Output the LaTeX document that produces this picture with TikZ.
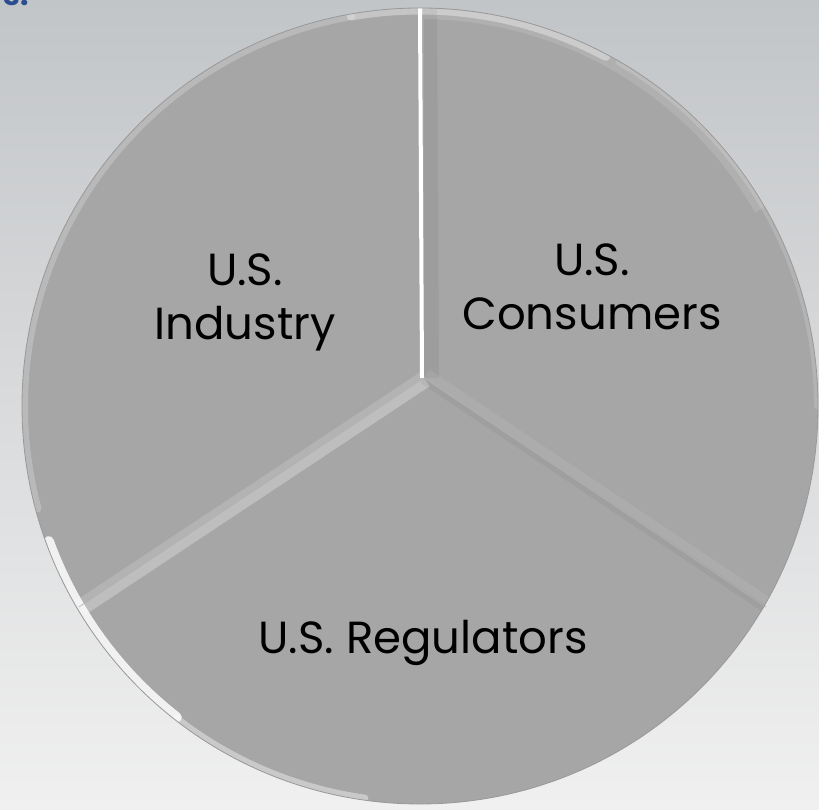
\documentclass[tikz,border=0pt]{standalone}
\usepackage{fontspec}
\setmainfont{Poppins}
\definecolor{bgtop}{HTML}{C2C5C8}
\definecolor{bgbot}{HTML}{F0F0F0}
\definecolor{piefill}{HTML}{A6A6A6}
\definecolor{titleblue}{HTML}{2A4D8F}
\begin{document}
\begin{tikzpicture}[x=1pt,y=1pt,
  pie/.style={fill=piefill},
  lbl/.style={font=\fontsize{45}{54}\selectfont, text=black, align=center, inner sep=0pt},
  rimhi/.style={white, line cap=round}]
\clip (0,0) rectangle (819,809);
\useasboundingbox (0,0) rectangle (819,809);
\shade[top color=bgtop, bottom color=bgbot] (0,0) rectangle (819,809);
% partial title fragment
\node[anchor=base east, text=titleblue, font=\bfseries\fontsize{30}{30}\selectfont, inner sep=0pt] (title) at (29,803) {s:};
% geometry
\coordinate (O) at (420,403);
\coordinate (C) at (424,431);
\coordinate (T) at (422,801);
\coordinate (L) at (79,202);
\coordinate (R) at (766,202);
% pie body
\fill[pie] (O) circle[radius=398];
% rim highlights
\begin{scope}
\clip (O) circle[radius=398];
\draw[rimhi, line width=9, opacity=0.35] ([shift={(62:396)}]O) arc[start angle=62, end angle=100, radius=396];
\draw[rimhi, line width=8, opacity=0.22] ([shift={(100:396)}]O) arc[start angle=100, end angle=195, radius=396];
\draw[rimhi, line width=10, opacity=0.85] ([shift={(200:395)}]O) arc[start angle=200, end angle=232, radius=395];
\draw[rimhi, line width=7, opacity=0.40] ([shift={(232:396)}]O) arc[start angle=232, end angle=262, radius=396];
\draw[rimhi, line width=6, opacity=0.15] ([shift={(0:397)}]O) arc[start angle=0, end angle=60, radius=397];
\end{scope}
% bevel bands per sector
% Industry sector
\begin{scope}
\clip (C) -- (T) arc[start angle=89.7, end angle=210.5, radius=398] -- cycle;
\draw[white, line width=8] (C) -- (T);
\draw[white, line width=14, opacity=0.15] (C) -- (L);
\end{scope}
% Consumers sector
\begin{scope}
\clip (C) -- (R) arc[start angle=-30.2, end angle=89.7, radius=398] -- cycle;
\draw[black, line width=30, opacity=0.05] (C) -- (T);
\draw[white, line width=20, opacity=0.08] (C) -- (R);
\draw[white, line width=22, opacity=0.12] ([shift={(30:398)}]O) arc[start angle=30, end angle=89.7, radius=398];
\end{scope}
% Regulators sector
\begin{scope}
\clip (C) -- (L) arc[start angle=210.5, end angle=329.8, radius=398] -- cycle;
\draw[white, line width=20, opacity=0.28] (C) -- (L);
\draw[black, line width=12, opacity=0.04] (C) -- (R);
\end{scope}
% spokes
\draw[gray!60, line width=0.6] (C) -- (L);
\draw[gray!60, line width=0.6] (C) -- (R);
\draw[gray!80, line width=0.8] (O) circle[radius=398];
% labels
\node[lbl, anchor=base] (ind) at (245,469) {U.S.\\Industry};
\node[lbl, anchor=base] (con) at (592,479) {U.S.\\Consumers};
\node[lbl, anchor=base] (reg) at (423,156) {U.S. Regulators};
\end{tikzpicture}
\end{document}
